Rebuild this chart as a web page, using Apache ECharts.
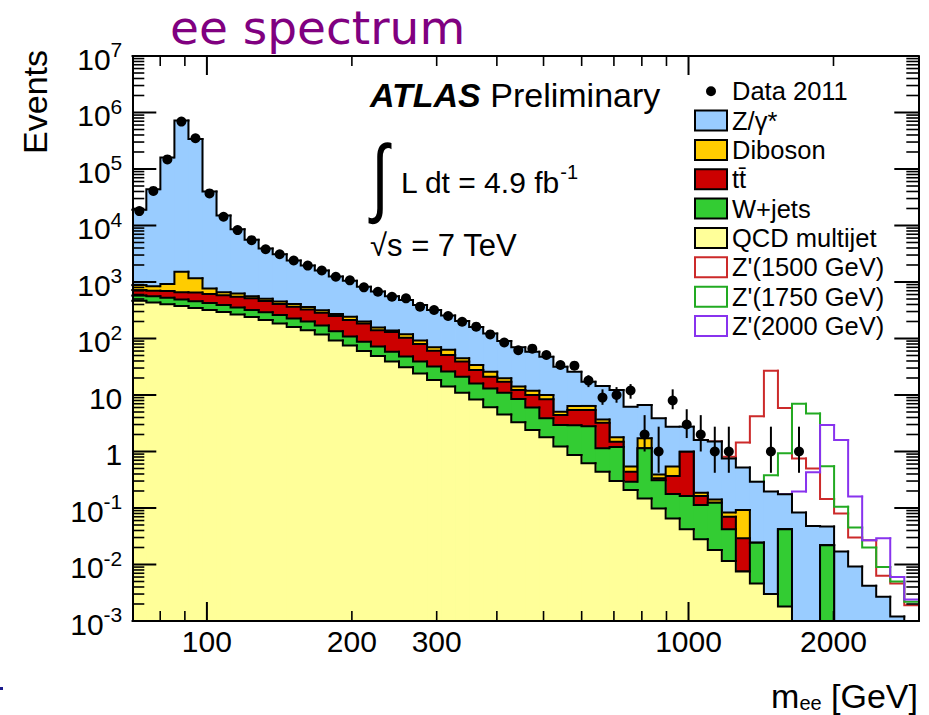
<!DOCTYPE html>
<html><head><meta charset="utf-8">
<script src="https://cdn.jsdelivr.net/npm/echarts@6/dist/echarts.min.js"></script>
<style>html,body{margin:0;padding:0;background:#fff}#c{width:929px;height:715px}</style>
</head><body><div id="c"></div>
<script>
// ---------- data ----------
const X_MIN = 70, X_MAX = 3000, Y_MIN = 1e-3, Y_MAX = 1e7;

const binEdges = [70, 74.86, 80.05, 85.61, 91.55, 97.91, 104.70, 111.97, 119.74, 128.05,
  136.94, 146.45, 156.61, 167.48, 179.10, 191.54, 204.83, 219.05, 234.25, 250.51,
  267.90, 286.49, 306.38, 327.64, 350.38, 374.70, 400.71, 428.52, 458.26, 490.07,
  524.08, 560.46, 599.36, 640.96, 685.45, 733.03, 783.90, 838.31, 896.50, 958.72,
  1025.3, 1096.4, 1172.5, 1253.9, 1340.9, 1434.0, 1533.5, 1640.0, 1753.8, 1875.5,
  2005.7, 2144.9, 2293.8, 2453.0, 2623.3, 2805.4, 3000];

const dataCounts = [18000, 41000, 148000, 690000, 350000, 37000, 14300, 8300, 5500, 3800,
  3100, 2400, 1950, 1600, 1240, 1070, 805, 673, 549, 514,
  366, 319, 250, 198, 162, 118, 85, 62, 66, 51,
  34, 33, 18, 9, 10, 12, 2, 1, 8, 3,
  2, 1, 1, 0, 0, 1, 0, 1, 0, 0,
  0, 0, 0, 0, 0, 0];
const dataErrLow = [null, null, null, null, null, null, null, null, null, null,
  null, null, null, null, null, null, null, null, null, null,
  null, null, null, null, null, null, null, null, null, null,
  null, null, 13.8, 6.7, 7.3, 8.6, 1.0, 0.42, 5.6, 1.73,
  1.0, 0.42, 0.42, null, null, 0.42, null, 0.42, null, null,
  null, null, null, null, null, null];
const dataErrHigh = [null, null, null, null, null, null, null, null, null, null,
  null, null, null, null, null, null, null, null, null, null,
  null, null, null, null, null, null, null, null, null, null,
  null, null, 22.3, 12.6, 13.8, 15.6, 4.4, 2.75, 12.6, 5.6,
  4.4, 2.75, 2.75, null, null, 2.75, null, 2.75, null, null,
  null, null, null, null, null, null];

// stacked totals (top edge of each layer of the stack)
const topDY = [19000, 44000, 160000, 720000, 340000, 40000, 15000, 8600, 5600, 3900,
  3100, 2400, 1950, 1600, 1250, 1050, 820, 680, 560, 480,
  390, 320, 255, 205, 160, 122, 90, 70, 58, 47.6,
  31.6, 25.9, 17.2, 14.4, 12.3, 6.2, 6.65, 3.86, 2.75, 2.75,
  1.6, 1.5, 0.75, 0.52, 0.29, 0.195, 0.175, 0.083, 0.048, 0.047,
  0.0169, 0.0092, 0.0042, 0.0027, 0.0012, 0];
const topDiboson = [880, 840, 920, 1520, 1160, 770, 656, 625, 560, 505,
  450, 410, 360, 315, 271, 243, 199, 156, 138, 119,
  92, 70, 63, 44.6, 34, 25.9, 19.7, 14.1, 11.9, 10.0,
  5.07, 6.4, 6.4, 3.7, 1.78, 0.54, 1.71, 0.39, 0.54, 0.99,
  0.187, 0.142, 0.083, 0.092, 0.0243, 0.003, 0.042, 0, 0, 0.022,
  0, 0, 0, 0, 0, 0];
const topTtbar = [720, 703, 690, 660, 650, 613, 580, 550, 514, 460,
  410, 365, 325, 285, 250, 212, 185, 140, 130, 103,
  80, 61, 51, 39, 27.7, 21, 17.2, 12.2, 10, 8.4,
  4.43, 5.43, 5.43, 3.24, 1.49, 0.44, 1.14, 0.335, 0.37, 0.99,
  0.163, 0.124, 0.070, 0.029, 0.0243, 0.003, 0.042, 0, 0, 0.022,
  0, 0, 0, 0, 0, 0];
const topWjets = [575, 560, 525, 490, 455, 425, 392, 355, 320, 290,
  260, 227, 199, 169, 135, 108, 88, 72, 58, 48,
  39, 32, 26, 21, 16, 13, 11, 8.5, 6.0, 3.87,
  2.94, 2.9, 2.8, 1.14, 1.2, 0.29, 1.14, 0.31, 0.177, 0.163,
  0.113, 0.124, 0.042, 0.0075, 0.0243, 0.003, 0.042, 0, 0, 0.022,
  0, 0, 0, 0, 0, 0];
const topQCD = [465, 435, 405, 375, 345, 320, 295, 265, 240, 212,
  185, 160, 140, 118, 92, 75, 60, 49, 39, 31,
  24, 18.5, 14.2, 11, 8.3, 6.1, 4.5, 3.3, 2.4, 1.78,
  1.22, 0.87, 0.62, 0.44, 0.30, 0.208, 0.148, 0.098, 0.065, 0.042,
  0.028, 0.018, 0.0115, 0.0075, 0.0046, 0.003, 0.0018, 0, 0, 0,
  0, 0, 0, 0, 0, 0];

// signal + background outlines
const zp1500 = [null, null, null, null, null, null, null, null, null, null,
  null, null, null, null, null, null, null, null, null, null,
  null, null, null, null, null, null, null, null, null, null,
  null, null, null, null, null, null, null, null, null, null,
  1.6, 1.5, 0.81, 1.45, 4.2, 27, 5.9, 0.75, 0.5, 0.145,
  0.08, 0.030, 0.027, 0.0063, 0.0046, 0.0019];
const zp1750 = [null, null, null, null, null, null, null, null, null, null,
  null, null, null, null, null, null, null, null, null, null,
  null, null, null, null, null, null, null, null, null, null,
  null, null, null, null, null, null, null, null, null, null,
  null, null, null, null, 0.29, 0.38, 0.93, 7.0, 4.7, 0.55,
  0.105, 0.045, 0.02, 0.009, 0.005, 0.0022];
const zp2000 = [null, null, null, null, null, null, null, null, null, null,
  null, null, null, null, null, null, null, null, null, null,
  null, null, null, null, null, null, null, null, null, null,
  null, null, null, null, null, null, null, null, null, null,
  null, null, null, null, null, null, 0.175, 0.195, 0.43, 2.94,
  1.6, 0.159, 0.027, 0.029, 0.006, 0.0024];

const xTickLabels = [100, 200, 300, 1000, 2000];
const xMajorTicks = [100, 1000];
const xMinorTicks = [80, 90, 200, 300, 400, 500, 600, 700, 800, 900, 2000];
const yDecades = [1e-3, 1e-2, 1e-1, 1, 10, 1e2, 1e3, 1e4, 1e5, 1e6, 1e7];
const yMinorSteps = [2, 3, 4, 5, 6, 7, 8, 9];

// ---------- styles ----------
const FONT = 'Liberation Sans, Arial, Helvetica, sans-serif';
const C_DY = '#99ccff', C_VV = '#ffcc00', C_TT = '#cc0000', C_W = '#33cc33', C_QCD = '#ffff99';
const C_Z1500 = '#cc2a2a', C_Z1750 = '#22aa22', C_Z2000 = '#8833ee';

const clampY = v => Math.max(v, Y_MIN);
const centers = binEdges.slice(0, -1).map((e, i) => Math.sqrt(e * binEdges[i + 1]));

function stackSeries(name, tops, color, z) {
  const data = tops.map((v, i) => [binEdges[i], binEdges[i + 1], v, i > 0 ? tops[i - 1] : v]);
  return {
    type: 'custom', name, z, silent: true,
    itemStyle: { color, borderColor: '#000', borderWidth: 2 },
    encode: { x: [0, 1], y: 2 },
    data,
    renderItem: (params, api) => {
      const lo = api.value(0), hi = api.value(1), v = api.value(2), vp = api.value(3);
      const tl = api.coord([lo, clampY(v)]);
      const tr = api.coord([hi, clampY(v)]);
      const br = api.coord([hi, Y_MIN]);
      const pv = api.coord([lo, clampY(vp)]);
      const children = [];
      if (v > Y_MIN) {
        children.push({ type: 'rect', shape: { x: tl[0], y: tl[1], width: br[0] - tl[0] + 0.8, height: br[1] - tl[1] },
          style: { fill: color } });
      }
      children.push({ type: 'polyline', shape: { points: [pv, tl, tr] },
        style: { stroke: '#000', lineWidth: 2, fill: 'none', lineCap: 'square' } });
      return { type: 'group', children };
    }
  };
}

function signalSeries(name, vals, color, z) {
  const data = [];
  vals.forEach((v, i) => {
    if (v == null) return;
    const prev = (i > 0 && vals[i - 1] != null) ? vals[i - 1] : v;
    data.push([binEdges[i], binEdges[i + 1], v, prev]);
  });
  return {
    type: 'custom', name, z, silent: true,
    itemStyle: { color: '#fff', borderColor: color, borderWidth: 2 },
    encode: { x: [0, 1], y: 2 },
    data,
    renderItem: (params, api) => {
      const lo = api.value(0), hi = api.value(1), v = api.value(2), vp = api.value(3);
      const tl = api.coord([lo, clampY(v)]);
      const tr = api.coord([hi, clampY(v)]);
      const pv = api.coord([lo, clampY(vp)]);
      return { type: 'polyline', shape: { points: [pv, tl, tr] },
        style: { stroke: color, lineWidth: 2, fill: 'none', lineCap: 'square' } };
    }
  };
}

const errData = [];
dataErrLow.forEach((lo, i) => { if (lo != null) errData.push([centers[i], lo, dataErrHigh[i]]); });
const pointData = [];
dataCounts.forEach((n, i) => { if (n > 0) pointData.push([centers[i], n]); });

const xTickData = xMajorTicks.map(v => [v, 1]).concat(xMinorTicks.map(v => [v, 0]));
const yTickData = [];
yDecades.forEach(d => yTickData.push([X_MIN, d, 1]));
yDecades.slice(0, -1).forEach(d => yMinorSteps.forEach(k => yTickData.push([X_MIN, d * k, 0])));

const DOT_ICON = 'path://M0,0h0.01v0.01h-0.01zM32,20h-0.01v-0.01h0.01zM11,10a5,5 0 1,0 10,0a5,5 0 1,0 -10,0z';

const option = {
  backgroundColor: '#fff',
  animation: false,
  grid: { left: 132.3, right: 10.7, top: 56, bottom: 94, containLabel: false },
  xAxis: [0, 1].map(k => ({
    type: 'log', logBase: 10, min: X_MIN, max: X_MAX, position: k ? 'top' : 'bottom', z: 30,
    axisLine: { show: true, onZero: false, lineStyle: { color: '#000', width: 2 } },
    axisTick: { show: false }, axisLabel: { show: false }, splitLine: { show: false }
  })),
  yAxis: [0, 1].map(k => ({
    type: 'log', logBase: 10, min: Y_MIN, max: Y_MAX, position: k ? 'right' : 'left', z: 30,
    axisLine: { show: true, onZero: false, lineStyle: { color: '#000', width: 2 } },
    axisTick: { show: false }, axisLabel: { show: false }, splitLine: { show: false }
  })),
  legend: {
    orient: 'vertical', left: 694, top: 78.2, padding: 0,
    itemWidth: 32, itemHeight: 20, itemGap: 3.35, selectedMode: false,
    textStyle: { fontFamily: FONT, fontSize: 25.5, color: '#000' },
    data: [
      { name: 'Data 2011', icon: DOT_ICON, itemStyle: { color: '#000', borderWidth: 0, opacity: 1 } },
      { name: 'Z/γ*', icon: 'rect', itemStyle: { color: C_DY, borderColor: '#000', borderWidth: 2 } },
      { name: 'Diboson', icon: 'rect', itemStyle: { color: C_VV, borderColor: '#000', borderWidth: 2 } },
      { name: 'tt\u0304', icon: 'rect', itemStyle: { color: C_TT, borderColor: '#000', borderWidth: 2 } },
      { name: 'W+jets', icon: 'rect', itemStyle: { color: C_W, borderColor: '#000', borderWidth: 2 } },
      { name: 'QCD multijet', icon: 'rect', itemStyle: { color: C_QCD, borderColor: '#000', borderWidth: 2 } },
      { name: "Z'(1500 GeV)", icon: 'rect', itemStyle: { color: '#fff', borderColor: C_Z1500, borderWidth: 2 } },
      { name: "Z'(1750 GeV)", icon: 'rect', itemStyle: { color: '#fff', borderColor: C_Z1750, borderWidth: 2 } },
      { name: "Z'(2000 GeV)", icon: 'rect', itemStyle: { color: '#fff', borderColor: C_Z2000, borderWidth: 2 } }
    ]
  },
  graphic: [
    { type: 'text', x: 170, y: 27, silent: true,
      style: { text: 'ee spectrum', font: '47px DejaVu Sans', lineHeight: 47, fill: '#800080', align: 'left', verticalAlign: 'middle', textAlign: 'left', textVerticalAlign: 'middle' } },
    { type: 'text', x: 370, y: 95, silent: true,
      style: { text: '{a|ATLAS} {b|Preliminary}', font: '34px ' + FONT, fill: '#000', align: 'left', verticalAlign: 'middle', textAlign: 'left', textVerticalAlign: 'middle',
        rich: { a: { fontFamily: FONT, fontSize: 34, fontWeight: 'bold', fontStyle: 'italic', fill: '#000' },
                b: { fontFamily: FONT, fontSize: 34, fill: '#000' } } } },
    { type: 'text', x: 380, y: 176, scaleY: 1.4, silent: true,
      style: { text: '\u222B', font: '62px ' + FONT, fill: '#000', align: 'center', verticalAlign: 'middle', textAlign: 'center', textVerticalAlign: 'middle' } },
    { type: 'text', x: 401, y: 182, silent: true,
      style: { text: '{b|L dt = 4.9 fb}{s|-1}', font: '30px ' + FONT, fill: '#000', align: 'left', verticalAlign: 'middle', textAlign: 'left', textVerticalAlign: 'middle',
        rich: { b: { fontFamily: FONT, fontSize: 30, lineHeight: 40, fill: '#000' },
                s: { fontFamily: FONT, fontSize: 20, lineHeight: 20, verticalAlign: 'top', fill: '#000' } } } },
    { type: 'text', x: 370, y: 245, silent: true,
      style: { text: '\u221As = 7 TeV', font: '31px ' + FONT, fill: '#000', align: 'left', verticalAlign: 'middle', textAlign: 'left', textVerticalAlign: 'middle' } },
    { type: 'text', x: 35, y: 50, rotation: Math.PI / 2, silent: true,
      style: { text: 'Events', font: '34px ' + FONT, fill: '#000', align: 'right', verticalAlign: 'middle', textAlign: 'right', textVerticalAlign: 'middle' } },
    { type: 'text', x: 918, y: 696, silent: true,
      style: { text: '{m|m}{sub|ee}{m| [GeV]}', font: '34px ' + FONT, fill: '#000', align: 'right', verticalAlign: 'middle', textAlign: 'right', textVerticalAlign: 'middle',
        rich: { m: { fontFamily: FONT, fontSize: 34, lineHeight: 34, fill: '#000' },
                sub: { fontFamily: FONT, fontSize: 20, lineHeight: 12, verticalAlign: 'bottom', fill: '#000' } } } },
    { type: 'rect', silent: true, shape: { x: 0, y: 687, width: 3, height: 3 }, style: { fill: '#1a1a8c' } }
  ],
  series: [
    signalSeries("Z'(1500 GeV)", zp1500, C_Z1500, 2),
    signalSeries("Z'(1750 GeV)", zp1750, C_Z1750, 2),
    signalSeries("Z'(2000 GeV)", zp2000, C_Z2000, 2),
    stackSeries('Z/γ*', topDY, C_DY, 3),
    stackSeries('Diboson', topDiboson, C_VV, 4),
    stackSeries('tt\u0304', topTtbar, C_TT, 5),
    stackSeries('W+jets', topWjets, C_W, 6),
    stackSeries('QCD multijet', topQCD, C_QCD, 7),
    { type: 'custom', name: 'Data errors', z: 8, silent: true, data: errData, encode: { x: 0, y: [1, 2] },
      renderItem: (params, api) => {
        const lo = api.coord([api.value(0), clampY(api.value(1))]);
        const hi = api.coord([api.value(0), api.value(2)]);
        return { type: 'line', shape: { x1: lo[0], y1: lo[1], x2: hi[0], y2: hi[1] }, style: { stroke: '#000', lineWidth: 2 } };
      } },
    { type: 'scatter', name: 'Data 2011', z: 9, silent: true, data: pointData, symbol: 'circle', symbolSize: 10,
      itemStyle: { color: '#000', opacity: 1 } },
    { type: 'custom', name: 'xticks', z: 20, silent: true, data: xTickData, encode: { x: 0 },
      renderItem: (params, api) => {
        const v = api.value(0), len = api.value(1) ? 19 : 10, w = api.value(1) ? 2 : 1.6;
        const b = api.coord([v, Y_MIN]), t = api.coord([v, Y_MAX]);
        return { type: 'group', children: [
          { type: 'line', shape: { x1: b[0], y1: b[1], x2: b[0], y2: b[1] - len }, style: { stroke: '#000', lineWidth: w } },
          { type: 'line', shape: { x1: t[0], y1: t[1], x2: t[0], y2: t[1] + len }, style: { stroke: '#000', lineWidth: w } }
        ] };
      } },
    { type: 'custom', name: 'yticks', z: 20, silent: true, data: yTickData, encode: { x: 0, y: 1 },
      renderItem: (params, api) => {
        const v = api.value(1), len = api.value(2) ? 24 : 12, w = api.value(2) ? 2 : 1.6;
        const l = api.coord([X_MIN, v]), r = api.coord([X_MAX, v]);
        return { type: 'group', children: [
          { type: 'line', shape: { x1: l[0], y1: l[1], x2: l[0] + len, y2: l[1] }, style: { stroke: '#000', lineWidth: w } },
          { type: 'line', shape: { x1: r[0], y1: r[1], x2: r[0] - len, y2: r[1] }, style: { stroke: '#000', lineWidth: w } }
        ] };
      } },
    { type: 'custom', name: 'xlabels', z: 20, silent: true, data: xTickLabels.map(v => [v]), encode: { x: 0 },
      renderItem: (params, api) => {
        const v = api.value(0);
        const b = api.coord([v, Y_MIN]);
        return { type: 'text', x: b[0], y: b[1] + 5,
          style: { text: String(v), font: '30px ' + FONT, fill: '#000', align: 'center', verticalAlign: 'top', textAlign: 'center', textVerticalAlign: 'top' } };
      } },
    { type: 'custom', name: 'ylabels', z: 20, silent: true, data: yDecades.map(v => [X_MIN, v]), encode: { x: 0, y: 1 },
      renderItem: (params, api) => {
        const v = api.value(1);
        const e = Math.round(Math.log10(v));
        const txt = e === 0 ? '{b|1}' : (e === 1 ? '{b|10}' : '{b|10}{s|' + e + '}');
        const p = api.coord([X_MIN, v]);
        return { type: 'text', x: p[0] - 10, y: p[1] + 3,
          style: { text: txt, fill: '#000', align: 'right', verticalAlign: 'middle', textAlign: 'right', textVerticalAlign: 'middle',
            font: '30px ' + FONT,
            rich: { b: { fontFamily: FONT, fontSize: 30, lineHeight: 40, fill: '#000' },
                    s: { fontFamily: FONT, fontSize: 21, lineHeight: 21, verticalAlign: 'top', fill: '#000' } } } };
      } }
  ]
};

const chart = echarts.init(document.getElementById('c'), null, { renderer: 'svg', width: 929, height: 715 });
chart.setOption(option);
</script>
</body></html>
